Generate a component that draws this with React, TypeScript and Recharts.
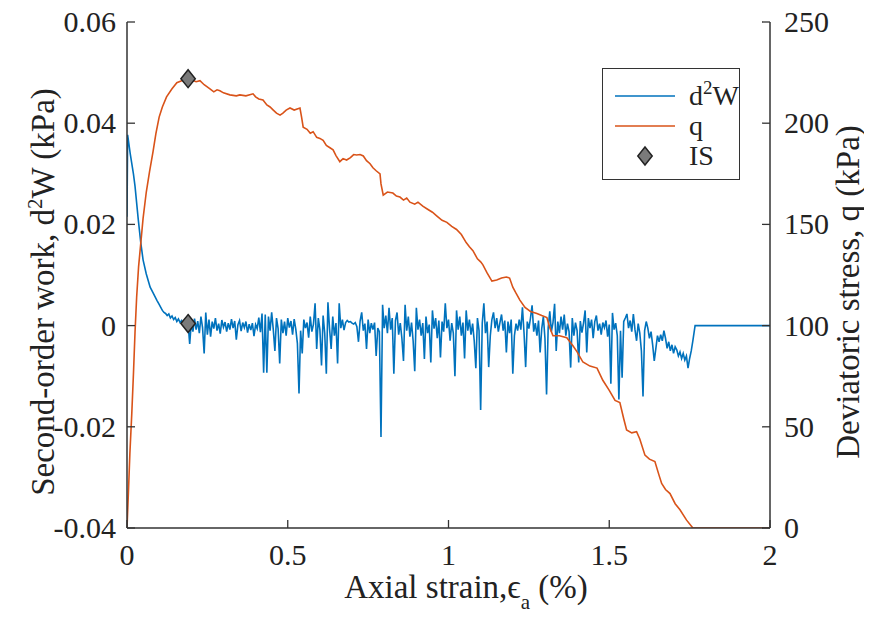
import { ComposedChart, Line, Scatter, XAxis, YAxis, Legend } from "recharts";

const FONT = '"Liberation Serif", "Times New Roman", Times, serif';
const AXIS = "#333333";
const BLUE = "#0072BD";
const ORANGE = "#D95319";

// axis ticks
const strainTicks = [0, 0.5, 1, 1.5, 2];
const strainTickLabels = ["0", "0.5", "1", "1.5", "2"];
const d2wTicks = [-0.04, -0.02, 0, 0.02, 0.04, 0.06];
const d2wTickLabels = ["-0.04", "-0.02", "0", "0.02", "0.04", "0.06"];
const qTicks = [0, 50, 100, 150, 200, 250];

// d2W: initial decay [strain %, kPa]
const d2wHead: [number, number][] = [
  [0, 0.0215], [0.002, 0.0377], [0.01, 0.034], [0.02, 0.03], [0.025, 0.0275],
  [0.035, 0.021], [0.043, 0.0163], [0.05, 0.013], [0.06, 0.0102], [0.072, 0.0076],
  [0.08, 0.0066], [0.093, 0.005], [0.1, 0.0042], [0.105, 0.0036], [0.11, 0.003],
  [0.115, 0.0026],
];

// d2W: noisy part, sampled every 0.005 % from 0.12 %, values in 1e-3 kPa
const d2wNoiseStart = 0.12;
const d2wNoiseStep = 0.005;
const d2wNoiseMilli = [
  2.4, 2.0, 2.3, 1.5, 1.9, 1.2, 1.6, 0.8, 1.3, 0.6,
  1.0, 0.3, 0.9, -0.2, 0.4, -3.6, 0.6, -1.2, 1.4, -0.8,
  0.9, -1.5, 1.8, -0.4, -5.5, 2.6, -1.8, 1.2, -2.2, 0.8,
  -0.6, 1.5, -1.0, 0.4, -1.6, 1.1, -0.3, 0.7, -1.2, 0.5,
  -0.8, 1.3, -0.5, 0.9, -2.8, 0.2, 1.0, -1.1, 0.6, -0.4,
  0.8, -1.4, 0.3, -0.9, 0.5, -2.1, 0.2, -0.6, 1.6, -1.3,
  2.4, -9.3, 2.2, -9.3, 1.8, -1.0, 2.6, -0.8, -5.0, 1.5,
  -0.6, -7.5, 1.2, -1.5, 0.8, -2.0, 1.5, -0.4, 0.9, -1.8,
  1.3, -0.7, -3.5, -13.4, -1.0, -5.5, 1.2, -0.5, 0.6, -2.4,
  1.8, -1.2, 0.3, 4.4, -4.6, 1.5, -0.8, -7.9, 2.0, -1.5,
  -9.5, 4.6, -0.6, -4.6, 1.8, -2.0, 0.5, -7.5, 4.4, -0.5,
  1.2, -0.9, 0.6, 1.0, 0.7, 0.8, 0.5, 0.3, 0.6, -0.2,
  -3.2, 0.9, 2.6, -1.0, 0.4, -4.6, 1.2, -1.5, 0.5, -0.8,
  0.6, -6.0, -0.5, -1.2, -22.0, 4.1, -0.5, 2.0, -1.5, 3.5,
  -0.8, 1.5, -9.5, 1.0, 2.6, -1.8, 0.5, -2.5, -7.0, 4.1,
  -1.0, 1.8, -2.2, 0.6, -3.0, -9.0, 3.5, -0.8, 1.2, -2.0,
  0.5, -6.6, 1.8, -1.5, 0.2, -7.3, 3.0, -0.6, 1.5, -2.5,
  1.0, -6.3, 0.8, -1.2, 4.4, -0.5, 1.2, -3.0, 0.5, -1.5,
  -10.0, 3.0, -0.8, 1.8, -2.0, 0.6, -6.5, 3.0, -1.0, 1.2,
  -1.8, 0.4, -3.0, -8.4, 1.5, -1.0, -16.7, 0.5, 4.4, -1.5,
  0.8, -8.2, -2.0, 1.2, 2.6, -0.5, 1.5, -1.2, 0.6, 2.2,
  -1.0, 1.0, -5.3, 0.8, -1.5, 1.2, -9.5, -2.0, 0.4, -1.0,
  1.2, -0.8, 3.6, -1.5, -8.2, 0.8, -0.6, 1.5, 4.0, -1.2,
  0.5, -2.0, 1.0, -5.3, -0.6, 1.8, -2.5, -13.6, -0.5, 2.8,
  -1.2, 0.6, 4.3, -5.0, 0.8, -1.5, 1.8, -0.8, 2.2, -2.0,
  0.4, -1.2, -8.3, 1.5, -2.0, 0.6, -1.0, -7.3, 0.9, -1.4,
  0.5, 3.0, -5.3, 1.5, -0.5, 1.2, -2.5, 0.8, 2.0, -1.0,
  0.4, -1.8, 0.6, -0.4, 1.0, -2.2, 0.2, -11.5, 2.5, -0.8,
  0.5, -2.0, -14.6, -1.0, -10.3, 0.8, 1.5, 2.3, -0.5, 1.0,
  -1.2, 2.3, -0.8, -3.0, 0.4, -1.5, -5.0, -14.0, -1.0, 0.8,
  -0.5, -2.5, -1.2, -3.8, -7.0, -4.5, -2.0, -3.2, -1.8, -3.0,
  -1.0, -2.5, -4.5, -3.2, -5.0, -3.8, -5.5, -4.2, -4.8, -6.0,
  -5.2, -6.5, -5.5, -6.8, -6.0, -8.4, -6.5, -5.0, -3.0,
];

// d2W: after failure
const d2wTail: [number, number][] = [[1.767, 0], [1.9, 0], [2, 0]];

// deviatoric stress q [strain %, kPa]
const qCurve: [number, number][] = [
  [0, 0], [0.005, 20], [0.009, 37], [0.015, 57], [0.02, 76], [0.025, 97], [0.03, 114],
  [0.036, 129], [0.043, 141], [0.05, 153], [0.06, 166], [0.07, 176], [0.081, 186],
  [0.09, 195], [0.1, 203], [0.11, 208], [0.123, 213], [0.14, 217], [0.155, 220],
  [0.17, 221], [0.189, 222], [0.2, 221.5], [0.215, 220.5], [0.227, 221], [0.24, 219],
  [0.258, 217], [0.27, 215.5], [0.28, 216.5], [0.289, 216], [0.3, 215], [0.32, 214],
  [0.34, 213.5], [0.351, 214], [0.37, 213.5], [0.392, 214.5], [0.4, 213], [0.41, 212],
  [0.423, 211.5], [0.435, 209], [0.445, 208], [0.455, 206.5], [0.465, 205], [0.476, 204],
  [0.485, 205], [0.495, 206.5], [0.507, 207.5], [0.52, 206.5], [0.538, 207.5], [0.543, 203],
  [0.548, 198], [0.56, 197], [0.57, 195], [0.579, 195.8], [0.59, 193], [0.6, 192.5],
  [0.61, 191.5], [0.62, 189], [0.63, 188], [0.641, 186.8], [0.65, 184], [0.662, 181],
  [0.672, 182.5], [0.683, 181.8], [0.695, 183], [0.705, 184.5], [0.714, 184.3],
  [0.725, 184.5], [0.735, 183.8], [0.745, 181.5], [0.756, 180], [0.765, 178],
  [0.775, 176.5], [0.787, 175], [0.79, 170], [0.797, 164.5], [0.81, 166], [0.827, 165.5],
  [0.838, 164], [0.849, 163.5], [0.86, 162], [0.87, 163], [0.88, 161], [0.895, 160],
  [0.905, 161], [0.92, 159], [0.935, 157.5], [0.95, 156], [0.965, 154], [0.98, 152],
  [0.995, 151], [1.01, 149], [1.025, 147.5], [1.04, 145], [1.055, 141], [1.065, 139],
  [1.076, 137], [1.09, 133], [1.1, 131.5], [1.107, 130], [1.12, 126], [1.135, 122],
  [1.15, 122.5], [1.165, 123.5], [1.18, 124], [1.19, 123.5], [1.2, 119], [1.21, 116],
  [1.222, 112.6], [1.238, 109], [1.255, 107], [1.275, 106], [1.29, 105], [1.306, 104],
  [1.315, 99], [1.325, 95], [1.345, 95], [1.368, 94], [1.387, 90], [1.4, 87], [1.418, 82],
  [1.44, 80], [1.462, 79], [1.48, 73], [1.5, 68], [1.518, 63], [1.533, 62], [1.545, 54],
  [1.554, 48.4], [1.57, 47], [1.585, 47.6], [1.595, 44], [1.611, 36], [1.625, 34],
  [1.642, 32.8], [1.655, 26], [1.663, 22], [1.675, 19], [1.689, 17], [1.705, 12],
  [1.72, 9], [1.74, 4], [1.76, 0], [2, 0],
];

// instability point (IS)
const isStrain = 0.19;
const isD2w = 0.0004;
const isQ = 222;

const d2wData = [
  ...d2wHead.map(([x, y]) => ({ x, y })),
  ...d2wNoiseMilli.map((v, i) => ({
    x: +(d2wNoiseStart + i * d2wNoiseStep).toFixed(3),
    y: v / 1000,
  })),
  ...d2wTail.map(([x, y]) => ({ x, y })),
];
const qData = qCurve.map(([x, y]) => ({ x, y }));
const isLeft = [{ x: isStrain, y: isD2w }];
const isRight = [{ x: isStrain, y: isQ }];

const findLabel = (ticks: number[], labels: string[], v: number) => {
  const i = ticks.findIndex((t) => Math.abs(t - v) < 1e-9);
  return i >= 0 ? labels[i] : String(v);
};

const tickText = {
  fontSize: 30,
  fill: "#222",
  style: { fontFamily: FONT },
};
const titleText = {
  fontSize: 33,
  fill: "#222",
  style: { fontFamily: FONT },
};

// ticks drawn inside the box, MATLAB style
// eslint-disable-next-line @typescript-eslint/no-explicit-any
function BottomTick({ x, y, payload }: any) {
  return (
    <g>
      <line x1={x} x2={x} y1={y} y2={y - 8} stroke={AXIS} strokeWidth={1.3} />
      <text x={x} y={y + 37} textAnchor="middle" {...tickText}>
        {findLabel(strainTicks, strainTickLabels, payload.value)}
      </text>
    </g>
  );
}

// eslint-disable-next-line @typescript-eslint/no-explicit-any
function TopTick({ x, y }: any) {
  return <line x1={x} x2={x} y1={y} y2={y + 8} stroke={AXIS} strokeWidth={1.3} />;
}

// eslint-disable-next-line @typescript-eslint/no-explicit-any
function LeftTick({ x, y, payload }: any) {
  return (
    <g>
      <line x1={x} x2={x + 8} y1={y} y2={y} stroke={AXIS} strokeWidth={1.3} />
      <text x={x - 11} y={y + 10} textAnchor="end" {...tickText}>
        {findLabel(d2wTicks, d2wTickLabels, payload.value)}
      </text>
    </g>
  );
}

// eslint-disable-next-line @typescript-eslint/no-explicit-any
function RightTick({ x, y, payload }: any) {
  return (
    <g>
      <line x1={x} x2={x - 8} y1={y} y2={y} stroke={AXIS} strokeWidth={1.3} />
      <text x={x + 14} y={y + 10} textAnchor="start" {...tickText}>
        {String(payload.value)}
      </text>
    </g>
  );
}

function Diamond({ cx, cy, r = 9 }: { cx: number; cy: number; r?: number }) {
  return (
    <polygon
      points={`${cx},${cy - r} ${cx + r * 0.8},${cy} ${cx},${cy + r} ${cx - r * 0.8},${cy}`}
      fill="#7a7a7a"
      stroke="#222"
      strokeWidth={1.5}
    />
  );
}

// eslint-disable-next-line @typescript-eslint/no-explicit-any
const diamondShape = (p: any) => <Diamond cx={p.cx} cy={p.cy} />;

function LegendBox() {
  const row = { display: "flex", alignItems: "center", height: 30, overflow: "visible" };
  return (
    <div
      style={{
        width: 138, height: 112, boxSizing: "border-box",
        border: `1.5px solid ${AXIS}`, background: "#fff",
        fontFamily: FONT, fontSize: 28, color: "#222",
        paddingTop: 12, lineHeight: "26px",
      }}
    >
      <div style={row}>
        <svg width={86} height={6}><line x1={12} x2={72} y1={3} y2={3} stroke={BLUE} strokeWidth={1.6} /></svg>
        <span>
          d<span style={{ fontSize: 19, position: "relative", top: -11, lineHeight: 0 }}>2</span>W
        </span>
      </div>
      <div style={row}>
        <svg width={86} height={6}><line x1={12} x2={72} y1={3} y2={3} stroke={ORANGE} strokeWidth={1.6} /></svg>
        <span>q</span>
      </div>
      <div style={row}>
        <svg width={86} height={22}><Diamond cx={42} cy={11} /></svg>
        <span>IS</span>
      </div>
    </div>
  );
}

export default function App() {
  return (
    // pull the chart into the page corner so it lines up 1:1 with the window
    <div style={{ marginTop: -8, marginLeft: -8, width: 872, height: 614 }}>
      <ComposedChart
        width={872}
        height={614}
        margin={{ top: 22, right: 0, bottom: 0, left: 0 }}
      >
        <XAxis
          xAxisId="bottom" dataKey="x" type="number" domain={[0, 2]} ticks={strainTicks}
          interval={0} allowDataOverflow height={86} tickSize={0} tickMargin={0}
          tickLine={false} axisLine={{ stroke: AXIS, strokeWidth: 1.5 }} tick={<BottomTick />}
        />
        <XAxis
          xAxisId="top" orientation="top" dataKey="x" type="number" domain={[0, 2]}
          ticks={strainTicks} interval={0} allowDataOverflow height={0} tickSize={0}
          tickMargin={0} tickLine={false} axisLine={{ stroke: AXIS, strokeWidth: 1.5 }}
          tick={<TopTick />}
        />
        <YAxis
          yAxisId="left" dataKey="y" type="number" domain={[-0.04, 0.06]} ticks={d2wTicks}
          interval={0} allowDataOverflow width={127} tickSize={0} tickMargin={0}
          tickLine={false} axisLine={{ stroke: AXIS, strokeWidth: 1.5 }} tick={<LeftTick />}
        />
        <YAxis
          yAxisId="right" orientation="right" dataKey="y" type="number" domain={[0, 250]}
          ticks={qTicks} interval={0} allowDataOverflow width={102} tickSize={0}
          tickMargin={0} tickLine={false} axisLine={{ stroke: AXIS, strokeWidth: 1.5 }}
          tick={<RightTick />}
        />
        <Line
          data={d2wData} xAxisId="bottom" yAxisId="left" dataKey="y" type="linear"
          stroke={BLUE} strokeWidth={1.6} dot={false} isAnimationActive={false}
        />
        <Line
          data={qData} xAxisId="bottom" yAxisId="right" dataKey="y" type="linear"
          stroke={ORANGE} strokeWidth={1.6} dot={false} isAnimationActive={false}
        />
        <Scatter
          data={isLeft} xAxisId="bottom" yAxisId="left" dataKey="y"
          shape={diamondShape} isAnimationActive={false}
        />
        <Scatter
          data={isRight} xAxisId="bottom" yAxisId="right" dataKey="y"
          shape={diamondShape} isAnimationActive={false}
        />
        <Legend
          layout="vertical" align="center" verticalAlign="middle"
          content={() => <LegendBox />}
          wrapperStyle={{ position: "absolute", left: 602, top: 68, width: 138, height: 112 }}
        />
        {/* axis titles */}
        <text transform="translate(54,292) rotate(-90)" textAnchor="middle" {...titleText}>
          Second-order work, d<tspan fontSize={21} dy={-12}>2</tspan>
          <tspan dy={12}>W (kPa)</tspan>
        </text>
        <text transform="translate(859,292) rotate(-90)" textAnchor="middle" {...titleText}>
          Deviatoric stress, q (kPa)
        </text>
        <text x={466} y={598} textAnchor="middle" {...titleText}>
          Axial strain,ϵ<tspan fontSize={21} dy={11}>a</tspan>
          <tspan dy={-11}>{"   (%)"}</tspan>
        </text>
      </ComposedChart>
    </div>
  );
}
